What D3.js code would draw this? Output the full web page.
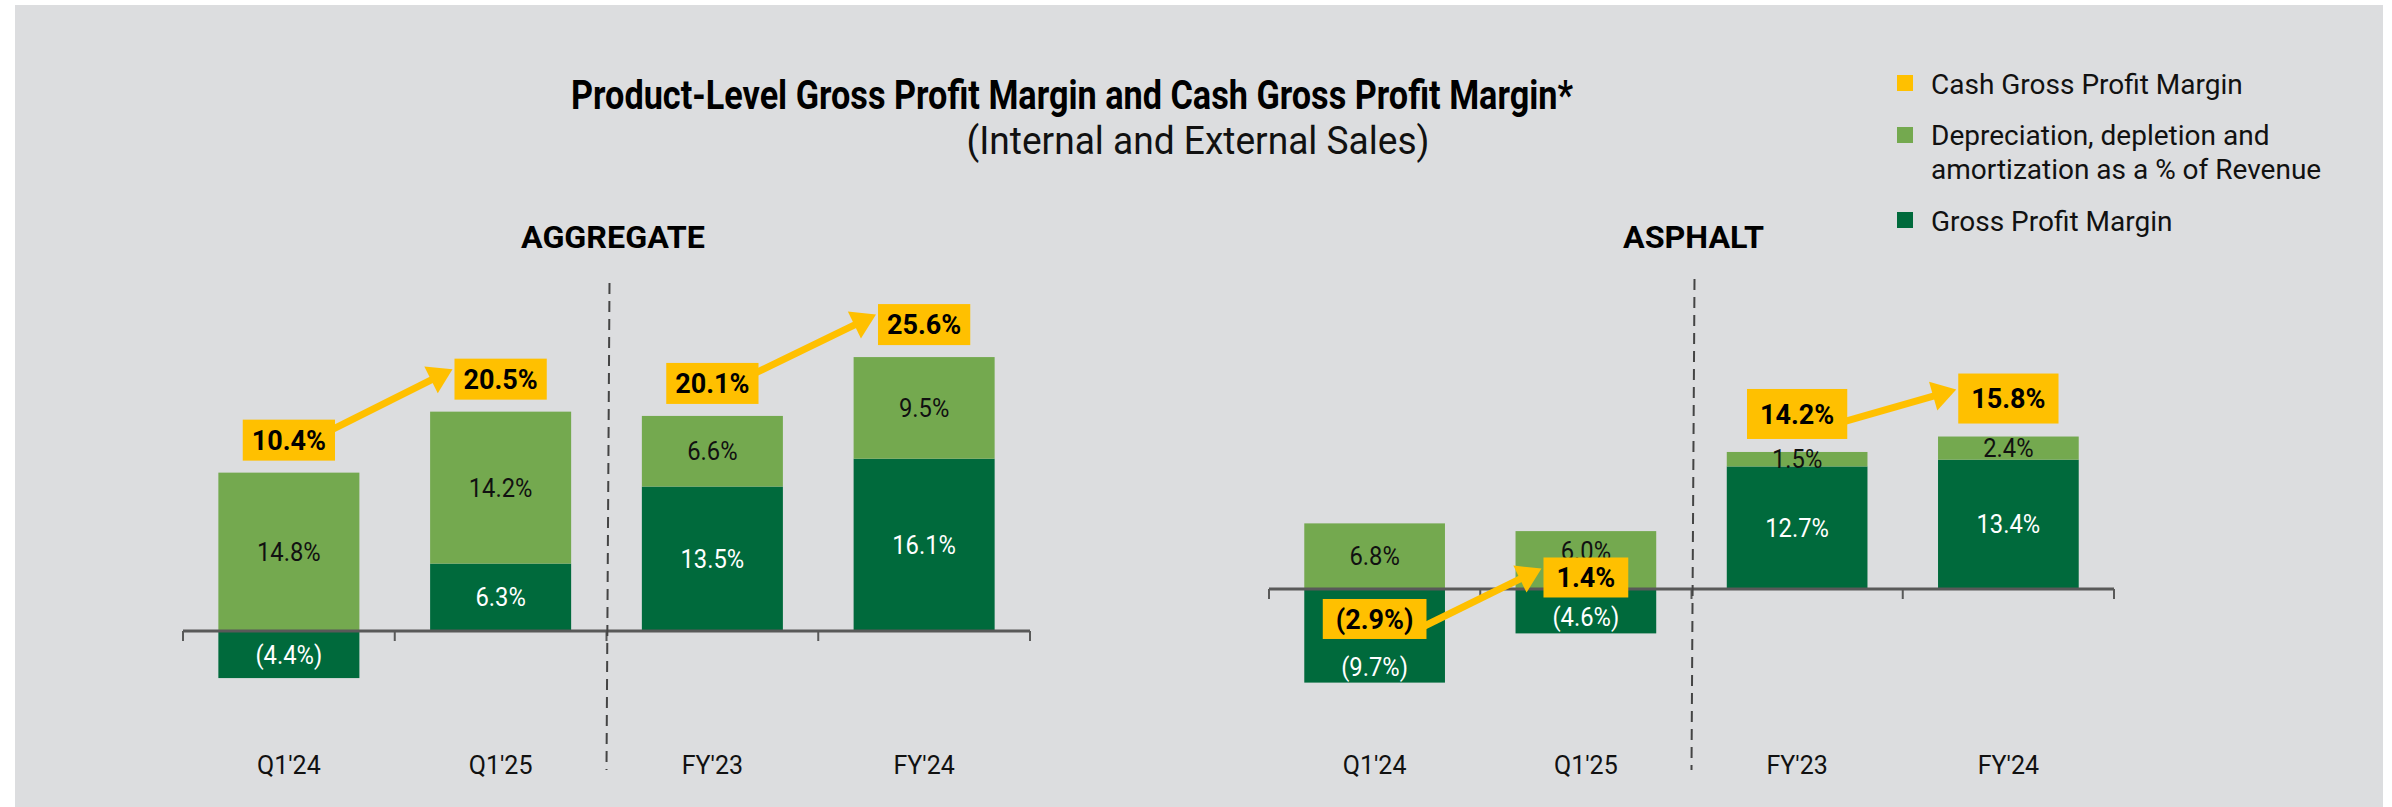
<!DOCTYPE html>
<html>
<head>
<meta charset="utf-8">
<script src="https://cdn.jsdelivr.net/npm/d3@7"></script>
<style>
  body { margin: 0; background: #fff; }
  svg text { font-family: Roboto, "Noto Sans", sans-serif; }
</style>
</head>
<body>
<script>
const categories = ["Q1'24", "Q1'25", "FY'23", "FY'24"];

const aggGross = [-4.4, 6.3, 13.5, 16.1];
const aggDda   = [14.8, 14.2, 6.6, 9.5];
const aggCash  = [10.4, 20.5, 20.1, 25.6];

const aspGross = [-9.7, -4.6, 12.7, 13.4];
const aspDda   = [6.8, 6.0, 1.5, 2.4];
const aspCash  = [-2.9, 1.4, 14.2, 15.8];

const legendLabels = [
  ["Cash Gross Profit Margin"],
  ["Depreciation, depletion and", "amortization as a % of Revenue"],
  ["Gross Profit Margin"]
];

const colors = { bg: "#dcdddf", light: "#74a94f", dark: "#006a3c", cash: "#ffc000", axis: "#595959" };

const W = 2392, H = 807;
const svg = d3.select("body").append("svg").attr("width", W).attr("height", H);

svg.append("rect").attr("x", 15).attr("y", 5).attr("width", 2368).attr("height", 802)
  .attr("fill", colors.bg);

// squeeze text horizontally to mimic a condensed face
function condense(sel, f) {
  sel.each(function() {
    const w = this.getComputedTextLength();
    d3.select(this).attr("textLength", w * f).attr("lengthAdjust", "spacingAndGlyphs");
  });
  return sel;
}
function fixWidth(sel, w) {
  return sel.attr("textLength", w).attr("lengthAdjust", "spacingAndGlyphs");
}

const fmt = v => v < 0 ? "(" + Math.abs(v).toFixed(1) + "%)" : v.toFixed(1) + "%";

// titles
fixWidth(svg.append("text").attr("x", 1072).attr("y", 109).attr("text-anchor", "middle")
  .attr("font-size", 40).attr("font-weight", 700).attr("fill", "#000")
  .text("Product-Level Gross Profit Margin and Cash Gross Profit Margin*"), 1002);
fixWidth(svg.append("text").attr("x", 1198).attr("y", 154).attr("text-anchor", "middle")
  .attr("font-size", 38).attr("fill", "#111")
  .text("(Internal and External Sales)"), 463);

// legend
const legColors = [colors.cash, colors.light, colors.dark];
const legSwatchY = [75, 127, 212];
const legTextY = [94, 145, 231];
const leg = svg.append("g");
legendLabels.forEach((lines, i) => {
  leg.append("rect").attr("x", 1897).attr("y", legSwatchY[i]).attr("width", 16).attr("height", 16)
    .attr("fill", legColors[i]);
  const t = leg.append("text").attr("x", 1931).attr("y", legTextY[i])
    .attr("font-size", 28).attr("fill", "#111");
  lines.forEach((l, j) => t.append("tspan").attr("x", 1931).attr("dy", j ? 34 : 0).text(l));
});

function drawPanel(cfg) {
  const rows = categories.map((c, i) => ({ cat: c, gross: cfg.gross[i], dda: cfg.dda[i], cash: cfg.cash[i] }));

  const x = d3.scaleBand().domain(categories).range(cfg.xRange)
    .paddingInner(0.334).paddingOuter(0.167);
  const y = d3.scaleLinear().domain([-10, 30]).range(cfg.yRange);

  const stack = d3.stack().keys(["gross", "dda"]).offset(d3.stackOffsetDiverging);
  const series = stack(rows);

  const g = svg.append("g");

  fixWidth(g.append("text").attr("x", cfg.headX).attr("y", 247.5).attr("text-anchor", "middle")
    .attr("font-size", 31).attr("font-weight", 700).attr("fill", "#000").text(cfg.name), cfg.headW);

  // bars
  const segColor = { gross: colors.dark, dda: colors.light };
  series.forEach(s => {
    g.selectAll(null).data(s).join("rect")
      .attr("x", d => x(d.data.cat))
      .attr("width", x.bandwidth())
      .attr("y", d => y(d[1]))
      .attr("height", d => y(d[0]) - y(d[1]))
      .attr("fill", segColor[s.key]);
  });

  // axis line and boundary ticks
  const step = x.step();
  const y0 = y(0);
  g.append("line").attr("x1", cfg.xRange[0]).attr("x2", cfg.xRange[1])
    .attr("y1", y0).attr("y2", y0).attr("stroke", colors.axis).attr("stroke-width", 3);
  const bounds = d3.range(categories.length + 1).map(i => cfg.xRange[0] + i * step);
  g.selectAll(null).data(bounds).join("line")
    .attr("x1", d => d).attr("x2", d => d).attr("y1", y0).attr("y2", y0 + 10)
    .attr("stroke", colors.axis).attr("stroke-width", 2);

  // dashed divider between quarters and years
  const divX = bounds[2];
  g.append("line").attr("x1", divX + 3).attr("x2", divX).attr("y1", cfg.dashTop).attr("y2", 770)
    .attr("stroke", "#444").attr("stroke-width", 2).attr("stroke-dasharray", "11,7");

  // cash margin box placement
  const boxes = rows.map((r, i) => {
    const top = d3.max(series, s => s[i][1]);
    const cx = x(r.cat) + x.bandwidth() / 2;
    const inside = cfg.atValue.includes(r.cat);
    const h = inside ? cfg.boxHIn : cfg.boxH;
    const cy = inside ? y(r.cash) + 2 : y(top) - cfg.gap - h / 2;
    return { r, cx, cy, h };
  });

  // segment labels, nudged away from a cash box sitting on top of them
  function labelY(d, key, i) {
    let ly = (y(d[0]) + y(d[1])) / 2;
    const b = boxes[i];
    if (Math.abs(ly - b.cy) < b.h / 2 + 16) {
      ly = (key === "gross" && d.data.gross < 0) ? y(d[0]) - 16 : y(d[1]) + 20;
    }
    return ly;
  }
  series.forEach(s => {
    condense(g.selectAll(null).data(s).join("text")
      .attr("x", d => x(d.data.cat) + x.bandwidth() / 2)
      .attr("y", (d, i) => labelY(d, s.key, i))
      .attr("dy", "0.36em")
      .attr("text-anchor", "middle")
      .attr("font-size", 25)
      .attr("fill", s.key === "gross" ? "#fff" : "#111")
      .text(d => fmt(d.data[s.key])), 0.95);
  });

  // category labels
  g.selectAll(null).data(categories).join("text")
    .attr("x", d => x(d) + x.bandwidth() / 2).attr("y", 774)
    .attr("text-anchor", "middle").attr("font-size", 25).attr("fill", "#111")
    .text(d => d);

  // arrows go under the boxes
  const arrowG = g.append("g");

  const boxG = g.selectAll(null).data(boxes).join("g");
  boxG.each(function(d) {
    const sel = d3.select(this);
    const t = sel.append("text").attr("x", d.cx).attr("y", d.cy).attr("dy", "0.36em")
      .attr("text-anchor", "middle").attr("font-size", 27).attr("font-weight", 700)
      .attr("fill", "#000").text(fmt(d.r.cash));
    const w = t.node().getComputedTextLength() + cfg.padX * 2;
    d.w = w;
    sel.insert("rect", "text").attr("x", d.cx - w / 2).attr("y", d.cy - d.h / 2)
      .attr("width", w).attr("height", d.h).attr("fill", colors.cash);
  });

  cfg.arrows.forEach(([a, b]) => {
    const A = boxes[a], B = boxes[b];
    const sx = A.cx + A.w / 2 - 4, sy = A.cy + cfg.arrowDy[0];
    const tx = B.cx - B.w / 2 - 2, ty = B.cy + cfg.arrowDy[1];
    const dx = tx - sx, dy = ty - sy, len = Math.hypot(dx, dy);
    const ux = dx / len, uy = dy / len;
    const headL = 24, headW = 15;
    const bx = tx - ux * headL, by = ty - uy * headL;
    arrowG.append("line").attr("x1", sx).attr("y1", sy).attr("x2", bx + ux * 2).attr("y2", by + uy * 2)
      .attr("stroke", colors.cash).attr("stroke-width", 7);
    arrowG.append("path")
      .attr("d", `M${tx},${ty}L${bx - uy * headW},${by + ux * headW}L${bx + uy * headW},${by - ux * headW}Z`)
      .attr("fill", colors.cash);
  });
}

drawPanel({
  name: "AGGREGATE", headX: 613, headW: 184,
  gross: aggGross, dda: aggDda, cash: aggCash,
  xRange: [183, 1030], yRange: [738, 310],
  dashTop: 283, boxH: 41, boxHIn: 41, padX: 9, gap: 12, atValue: [],
  arrowDy: [-10, -10], arrows: [[0, 1], [2, 3]]
});

drawPanel({
  name: "ASPHALT", headX: 1693.5, headW: 141,
  gross: aspGross, dda: aspDda, cash: aspCash,
  xRange: [1269, 2114], yRange: [685.5, 299.5],
  dashTop: 279, boxH: 50, boxHIn: 40, padX: 13, gap: 13, atValue: ["Q1'24", "Q1'25"],
  arrowDy: [8, -9], arrows: [[0, 1], [2, 3]]
});
</script>
</body>
</html>
